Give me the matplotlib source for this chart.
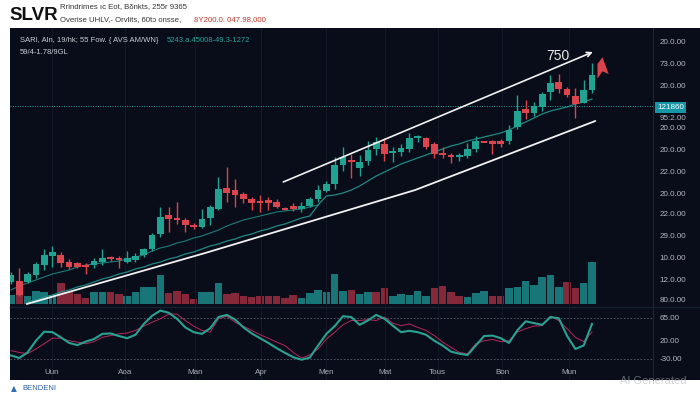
import matplotlib
matplotlib.use('Agg')
import matplotlib.pyplot as plt
import matplotlib.transforms as mtransforms
import numpy as np
from matplotlib.patches import Rectangle
from matplotlib.path import Path

# ---- candle data (one entry per session) ----
opens = [24, 25, 24, 31, 41, 50, 51, 44, 43, 41, 41, 44, 49, 48, 44, 46, 51, 57, 72, 91,
         88, 86, 81, 79, 88, 97, 118, 116, 112, 107, 105, 106, 104, 98, 100, 97, 100, 107, 115, 122,
         141, 146, 138, 145, 157, 162, 153, 154, 157, 168.5, 168, 162, 153, 151, 149, 150, 157, 165, 165, 165,
         165, 179, 197, 193, 199, 214, 224, 217, 210, 203, 216]
closes = [31, 11, 32, 42, 51, 54, 43, 39, 39, 39, 45, 48, 47, 46, 48, 50, 57, 71, 89, 87,
          86, 81, 79, 87, 99, 117, 113, 111, 107, 103, 103, 103, 99, 96, 97, 100, 107, 116, 122, 141,
          149, 144, 144, 156, 164, 152, 155, 158, 168, 170, 159, 152, 151, 149, 151, 157, 165, 164, 162, 162,
          176, 195, 193, 200, 212, 223, 217, 211, 202, 216, 231]
highs = [34, 38, 34, 44, 57, 60, 54, 47, 44, 43, 48, 57, 50, 50, 55, 53, 58, 73, 99, 99,
         104, 88, 83, 97, 101, 129, 139, 127, 114, 109, 111, 109, 107, 99, 103, 104, 109, 121, 125, 149,
         159, 152, 151, 165, 169, 168, 159, 162, 173, 171, 169, 164, 159, 153, 153, 163, 170, 165, 166, 167,
         181, 211, 206, 204, 214, 231, 232, 219, 218, 226, 243]
lows = [22, 10, 23, 28, 36, 39, 39, 37, 38, 32, 38, 41, 45, 38, 43, 44, 49, 55, 69, 74,
        82, 74, 77, 78, 81, 96, 104, 99, 103, 96, 94, 96, 98, 96, 95, 94, 99, 104, 114, 117,
        135, 128, 130, 141, 151, 145, 144, 150, 154, 164, 157, 148, 148, 143, 145, 148, 154, 164, 152, 159,
        162, 177, 187, 190, 195, 206, 213, 209, 188, 203, 213]

ma_fast = [16, 20, 23, 26, 29, 32, 34, 36, 39, 41, 42, 43, 44, 45, 47, 49, 51, 55, 58, 60,
           63, 65, 68, 70, 73, 76, 80, 83, 86, 88, 90, 92, 94, 95, 96, 97, 99, 101] + [None] * 33
ma_slow = [None, None, 4, 6, 9, 11, 14, 16, 19, 21, 24, 27, 29, 32, 34, 37, 39, 42, 44, 47,
           49, 52, 54, 57, 60, 62, 65, 67, 70, 72, 75, 77, 80, 82, 85, 88, 90, 101, 110, 111,
           113, 116, 120, 125, 130, 134, 138, 142, 145, 148, 151, 154, 157, 160, 162, 165, 167, 169, 171, 173,
           176, 180, 184, 188, 192, 195, 197, 199, 202, 204, 207]

volume = [9, 23, 8, 13, 12, 9, 21, 12, 10, 6, 12, 12, 12, 10, 8, 12, 17, 17, 29, 11,
          13, 10, 5, 12, 12, 21, 10, 11, 8, 7, 8, 8, 8, 6, 9, 6, 11, 14, 12, 30,
          13, 14, 10, 12, 12, 16, 8, 10, 9, 13, 8, 16, 18, 12, 8, 7, 11, 13, 8, 8,
          16, 17, 23, 19, 27, 29, 17, 22, 16, 21, 42]
volume_side = "trtttt" "rrrrtt" "rrtttt" "trrrrt" "ttrrrr" "rrrrrt" "tttttr" "ttrrtt" "tttrrr" "rtttrr" "tttttt" "trrtt"

osc_main = [-22, -28, -15, 12, 33, 32, 20, 7, 2, 10, 16, 28, 29, 23, 18, 26, 51, 70, 82, 77,
            63, 43, 32, 28, 41, 67, 72, 61, 43, 29, 18, 7, -5, -16, -26, -32, -27, 1, 28, 46,
            69, 67, 49, 59, 72, 63, 47, 32, 35, 32, 26, 12, 1, -13, -18, -21, 1, 23, 24, 18,
            7, 36, 57, 53, 49, 67, 64, 23, -7, 1, 51]
osc_signal = [-11, -15, -18, -7, 5, 18, 18, 12, 9, 5, 10, 20, 24, 28, 30, 36, 46, 55, 63, 74,
              74, 59, 46, 36, 32, 63, 69, 55, 46, 36, 26, 18, 9, 1, -15, -28, -21, -7, 16, 32,
              49, 59, 59, 61, 59, 67, 53, 47, 51, 43, 36, 24, 9, -3, -15, -18, 5, 12, 15, 10,
              12, 32, 40, 46, 47, 69, 59, 40, 20, 10, 32]

months = ['Uun', 'Aoa', 'Man', 'Apr', 'Men', 'Mat', 'Tous', 'Bon', 'Mun']
month_pos = [4.9, 13.7, 22.2, 30.1, 38.0, 45.1, 51.4, 59.2, 67.2]

price_ticks = [264, 243, 221, 189, 178, 156, 134, 113, 92, 70, 49, 27, 6]
price_labels = ['20.0.00', '73.0.00', '20.0.00', '95:2.00', '20.0.00', '20.0.00', '22.0.00',
                '20.0.00', '22.0.00', '29.0.00', '10.0.00', '12.0.00', '80.0.00']
osc_ticks = [65, 12, -30]
osc_labels = ['65.00', '20.00', '-30.00']

last_price = 200
last_label = '121860'

channel_upper_x = [32.8, 70.1]
channel_upper_y = [124, 254]
channel_lower_x = [1.9, 23.4, 48.7, 70.4]
channel_lower_y = [2, 53, 116, 185]

TEAL = '#21a391'
RED = '#dc454e'
VTEAL = '#187578'
VRED = '#852839'
BG = '#090d19'

W, H = 700, 393
fig = plt.figure(figsize=(7, 3.93), dpi=100, facecolor='white')
fig.patches.append(Rectangle((10 / W, 1 - 380 / H), 690 / W, 352 / H, transform=fig.transFigure,
                             facecolor=BG, edgecolor='none', zorder=-10))

x = np.arange(len(opens))
xlim = (-0.12, 77.35)

ax_vol = fig.add_axes([10 / W, 1 - 306 / H, 643 / W, 278 / H])
ax_vol.set_facecolor('none')
ax_vol.set_xlim(*xlim)
ax_vol.set_ylim(-2, 276)
ax_vol.axis('off')
vcols = [VTEAL if s == 't' else VRED for s in volume_side]
ax_vol.bar(x, volume, width=0.9, color=vcols, linewidth=0)

ax = fig.add_axes([10 / W, 1 - 306 / H, 643 / W, 278 / H])
ax.set_facecolor('none')
ax.set_xlim(*xlim)
ax.set_ylim(0, 278)
for s in ax.spines.values():
    s.set_visible(False)
ax.set_xticks([])
ax.yaxis.tick_right()
ax.set_yticks(price_ticks, price_labels)
ax.tick_params(axis='y', length=0, pad=4.5, labelsize=5.8, labelcolor='#b4b9c3')
for t in ax.get_yticklabels():
    t.set_fontfamily('Liberation Sans')

for m in month_pos:
    ax.axvline(m, color='#121826', lw=0.8, zorder=1)

o = np.array(opens, dtype=float)
c = np.array(closes, dtype=float)
up = c >= o
col = np.where(up, TEAL, RED)
ax.vlines(x, lows, highs, colors=col, lw=1.0, zorder=3)
bh = c - o
bh = np.where(np.abs(bh) < 1.5, np.where(up, 1.5, -1.5), bh)
ax.bar(x, bh, bottom=o, width=0.8, color=col, linewidth=0, zorder=4)

ax.plot(x, np.array(ma_fast, dtype=float), color='#1d7c78', lw=0.8, zorder=2)
ax.plot(x, np.array(ma_slow, dtype=float), color='#1f8a84', lw=0.9, zorder=2)

ax.axhline(last_price, color='#2a9c9a', lw=0.7, ls=(0, (1, 1.5)), zorder=2)

ax.plot(channel_lower_x, channel_lower_y, color='#f2f2f2', lw=1.3, zorder=5, solid_capstyle='round')
ax.annotate('', xy=(channel_upper_x[1], channel_upper_y[1]), xytext=(channel_upper_x[0], channel_upper_y[0]),
            arrowprops=dict(arrowstyle='->', color='#f2f2f2', lw=1.2, shrinkA=0, shrinkB=0,
                            mutation_scale=8), zorder=5)
ax.text(channel_upper_x[1] - 4.2, channel_upper_y[1] - 4, '750', color='#e8e8e8', fontsize=10,
        fontfamily='Liberation Sans', ha='center', va='center', zorder=6)

flag = Path([(-0.45, -0.9), (-0.45, 0.4), (0.0, 1.0), (0.55, -0.5), (0.0, -0.25), (-0.45, -0.9)],
            [Path.MOVETO, Path.LINETO, Path.LINETO, Path.LINETO, Path.LINETO, Path.CLOSEPOLY])
ax.scatter([x[-1] + 1.15], [highs[-1] - 5], marker=flag, s=260, color='#d8434c', linewidths=0, zorder=6)

# oscillator panel
ax_osc = fig.add_axes([10 / W, 1 - 380 / H, 643 / W, 72 / H])
ax_osc.set_facecolor('none')
ax_osc.set_xlim(*xlim)
ax_osc.set_ylim(-79, 88)
for s in ax_osc.spines.values():
    s.set_visible(False)
ax_osc.set_xticks([])
ax_osc.yaxis.tick_right()
ax_osc.set_yticks(osc_ticks, osc_labels)
ax_osc.tick_params(axis='y', length=0, pad=4.5, labelsize=5.8, labelcolor='#b4b9c3')
for t in ax_osc.get_yticklabels():
    t.set_fontfamily('Liberation Sans')
for m in month_pos:
    ax_osc.axvline(m, color='#121826', lw=0.8, zorder=1)
ax_osc.axhline(osc_ticks[0], color='#596070', lw=0.6, ls=(0, (2, 2)))
ax_osc.axhline(osc_ticks[-1], color='#596070', lw=0.6, ls=(0, (2, 2)))
ax_osc.plot(x, osc_signal, color='#b8285e', lw=0.7, zorder=3)
ax_osc.plot(x, osc_main, color='#28a393', lw=1.5, zorder=4)
trans = mtransforms.blended_transform_factory(ax_osc.transData, ax_osc.transAxes)
for m, name in zip(month_pos, months):
    ax_osc.text(m, 0.11, name, transform=trans, color='#aab0ba', fontsize=5.8,
                fontfamily='Liberation Sans', ha='center', va='center')

# panel separators
fig.add_artist(plt.Line2D([653 / W, 653 / W], [1 - 380 / H, 1 - 28 / H], color='#262d3d', lw=0.6))
fig.add_artist(plt.Line2D([10 / W, 1], [1 - 306.5 / H, 1 - 306.5 / H], color='#182031', lw=1.0))

# last price tag
fig.text(670.5 / W, 1 - 107.5 / H, last_label, color='white', fontsize=5.8, fontfamily='Liberation Sans',
         ha='center', va='center',
         bbox=dict(boxstyle='square,pad=0.25', facecolor='#1596a6', edgecolor='none'))

# header
fig.text(9 / W, 1 - 15 / H, 'SLVR', fontsize=13.5, fontweight='bold', fontfamily='Liberation Sans',
         color='#111111', va='center')
fig.text(60 / W, 1 - 7 / H, 'Rrindrimes ıc Eot, Bδnkts, 255r 9365', fontsize=5.6,
         fontfamily='Liberation Sans', color='#333333', va='center')
fig.text(60 / W, 1 - 20 / H, 'Overise UHLV,- Orvlits, 60tɔ onsse,', fontsize=5.6,
         fontfamily='Liberation Sans', color='#333333', va='center')
fig.text(194 / W, 1 - 20 / H, '8Y200.0. 047.98,000', fontsize=5.6,
         fontfamily='Liberation Sans', color='#c0392b', va='center')

# indicator legend
fig.text(20 / W, 1 - 40 / H, 'SARI, Aln, 19/hk; 55 Fow. { AVS AM/WN}', fontsize=5.5,
         fontfamily='Liberation Sans', color='#c9cdd5', va='center')
fig.text(167 / W, 1 - 40 / H, '5243.a.45008-49.3-1272', fontsize=5.5,
         fontfamily='Liberation Sans', color='#2aa39a', va='center')
fig.text(20 / W, 1 - 52 / H, '59/4-1.78/9GL', fontsize=5.5,
         fontfamily='Liberation Sans', color='#c9cdd5', va='center')

# footer
fig.text(11 / W, 1 - 389 / H, '▲', fontsize=5.5, color='#2a6fb5', va='center')
fig.text(22 / W, 1 - 389 / H, 'BENDENI', fontsize=5.5, fontfamily='Liberation Sans',
         color='#2a5f9e', va='center')
fig.text(620 / W, 1 - 381 / H, 'AI Generated', fontsize=8, fontfamily='Liberation Sans',
         color='#a8adb6', alpha=0.55, va='center')

fig.savefig('out.png', dpi=100, facecolor='white')
